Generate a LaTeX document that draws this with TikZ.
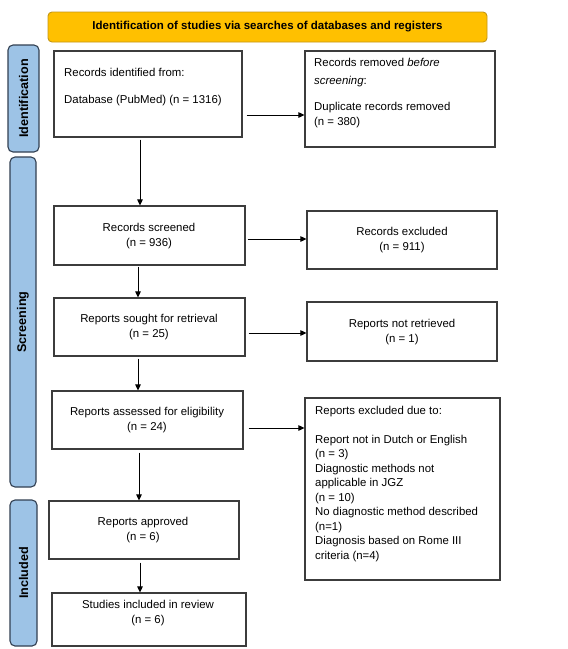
\documentclass[tikz,border=0pt]{standalone}
\usepackage{fontspec}
\setmainfont{Liberation Sans}
\usetikzlibrary{arrows.meta}
\definecolor{hdrfill}{RGB}{255,192,0}
\definecolor{hdrdraw}{RGB}{196,150,20}
\definecolor{sidefill}{RGB}{157,195,230}
\definecolor{sidedraw}{RGB}{50,64,82}
\definecolor{boxdraw}{RGB}{60,60,60}
\begin{document}
\begin{tikzpicture}[x=1pt,y=-1pt,
  box/.style={draw=boxdraw, line width=1.1pt, inner sep=0pt, fill=white},
  txt/.style={inner sep=0pt, font=\fontsize{11.4}{15}\selectfont},
  hdr/.style={draw=hdrdraw, fill=hdrfill, line width=0.9pt, rounded corners=4pt, inner sep=0pt},
  side/.style={draw=sidedraw, fill=sidefill, line width=1.1pt, rounded corners=5pt, inner sep=0pt},
  sidetxt/.style={inner sep=0pt, rotate=90, font=\fontsize{12.6}{14}\selectfont\bfseries},
  arr/.style={line width=0.9pt, -{Triangle[length=6pt,width=5.5pt]}}]
\useasboundingbox[fill=white] (0,0) rectangle (568,649);

% header
\node[hdr, minimum width=439pt, minimum height=30pt] (hdr) at (267.5,27) {};
\node[inner sep=0pt, font=\fontsize{11.5}{14}\selectfont\bfseries] (hdrt) at (267.5,26.5)
  {Identification of studies via searches of databases and registers};

% side labels
\node[side, minimum width=31pt, minimum height=107pt] (sid) at (23.5,98.5) {};
\node[sidetxt] (sidt) at (sid.center) {Identification};
\node[side, minimum width=26pt, minimum height=330pt] (sscr) at (23,322) {};
\node[sidetxt] (sscrt) at (sscr.center) {Screening};
\node[side, minimum width=27pt, minimum height=146pt] (sinc) at (23.5,573) {};
\node[sidetxt] (sinct) at (sinc.center) {Included};

% boxes
\node[box, minimum width=188pt, minimum height=86pt] (b1) at (148,94) {};
\node[txt, anchor=north west, align=left] (b1t) at (64,68)
  {Records identified from:\\[12pt]Database (PubMed) (n = 1316)};

\node[box, minimum width=190pt, minimum height=96pt] (rem) at (400,99) {};
\node[txt, anchor=north west, align=left] (remt) at (314,58)
  {Records removed \textit{before}\\[3pt]\textit{screening}:\\[11pt]Duplicate records removed\\(n = 380)};

\node[box, minimum width=191pt, minimum height=59pt] (b2) at (149.5,235.5) {};
\node[txt, align=center] (b2t) at (149,236) {Records screened\\(n = 936)};

\node[box, minimum width=190pt, minimum height=58pt] (exc) at (402,240) {};
\node[txt, align=center] (exct) at (402,240.5) {Records excluded\\(n = 911)};

\node[box, minimum width=191pt, minimum height=58pt] (b3) at (149.5,327) {};
\node[txt, align=center] (b3t) at (149,327.5) {Reports sought for retrieval\\(n = 25)};

\node[box, minimum width=190pt, minimum height=59pt] (nr) at (402,331.5) {};
\node[txt, align=center] (nrt) at (402,332) {Reports not retrieved\\(n = 1)};

\node[box, minimum width=191pt, minimum height=58pt] (b4) at (147.5,420) {};
\node[txt, align=center] (b4t) at (147,420) {Reports assessed for eligibility\\(n = 24)};

\node[box, minimum width=195pt, minimum height=182pt] (ed) at (402.5,489) {};
\node[txt, anchor=north west, align=left, font=\fontsize{11.4}{14.5}\selectfont] (edt) at (315,406)
  {Reports excluded due to:\\ \\Report not in Dutch or English\\(n = 3)\\Diagnostic methods not\\applicable in JGZ\\(n = 10)\\No diagnostic method described\\(n=1)\\Diagnosis based on Rome III\\criteria (n=4)};

\node[box, minimum width=190pt, minimum height=58pt] (b5) at (144,530) {};
\node[txt, align=center] (b5t) at (143,530.5) {Reports approved\\(n = 6)};

\node[box, minimum width=194pt, minimum height=53pt] (b6) at (149,619.5) {};
\node[txt, align=center] (b6t) at (148,613.5) {Studies included in review\\(n = 6)};

% horizontal arrows
\coordinate (h1) at ([shift={(4,21)}]b1.east);
\draw[arr] (h1) -- (h1 -| rem.west);
\coordinate (h2) at ([shift={(2,3.5)}]b2.east);
\draw[arr] (h2) -- (h2 -| exc.west);
\coordinate (h3) at ([shift={(3,6)}]b3.east);
\draw[arr] (h3) -- (h3 -| nr.west);
\coordinate (h4) at ([shift={(5,8)}]b4.east);
\draw[arr] (h4) -- (h4 -| ed.west);

% vertical arrows
\coordinate (v1) at ([shift={(-8,2)}]b1.south);
\draw[arr] (v1) -- (v1 |- b2.north);
\coordinate (v2) at ([shift={(-11.5,1)}]b2.south);
\draw[arr] (v2) -- (v2 |- b3.north);
\coordinate (v3) at ([shift={(-11.5,2)}]b3.south);
\draw[arr] (v3) -- (v3 |- b4.north);
\coordinate (v4) at ([shift={(-8.5,3)}]b4.south);
\draw[arr] (v4) -- (v4 |- b5.north);
\coordinate (v5) at ([shift={(-4,3)}]b5.south);
\draw[arr] (v5) -- (v5 |- b6.north);
\end{tikzpicture}
\end{document}
